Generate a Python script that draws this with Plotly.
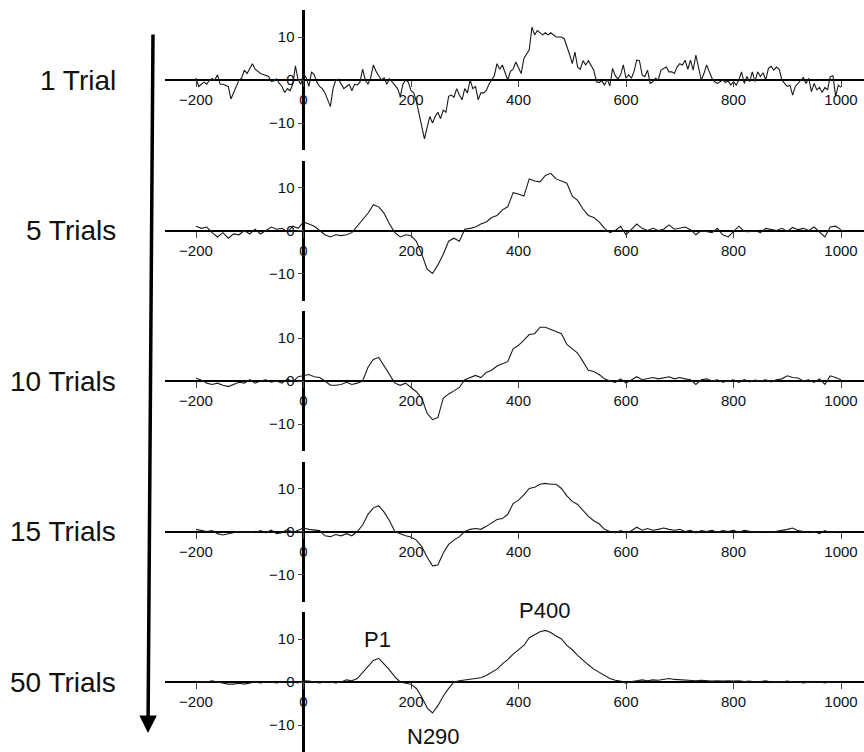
import plotly.graph_objects as go

# ---------------- data ----------------
panel_labels = ["1 Trial", "5 Trials", "10 Trials", "15 Trials", "50 Trials"]

# 1 trial: sampled every 5 ms from -200 to 1000
t_5ms = list(range(-200, 1001, 5))
trial_1 = [
    0.5, -1.5, -1, -0.5, -1, 0, 0.3, 0, 1.2, -1, -1, -1.2, -1.5, -4.4, -3, -1.5, 0, 0.5, 2.3, 1.5,
    2.8, 3.8, 2.5, 2, 1.5, 1.3, 1, 0.8, -0.3, -0.2, 0.3, -0.8, -1.5, -2.9, -2, -2.5, -1, 3.3, 0, -1,
    1.5, 0.5, -1.5, 1.9, 1.2, -0.5, -1.5, -2, -3, -4.5, -6.2, -2, 0, 0.2, -1, -2, -1.5, -1, -2.5, -1,
    -1.2, -0.5, 2.5, 0, -1, 0.5, 3.5, 2, 1, 0, 0.5, -1, 0.3, -0.5, -1.2, -2, -3.8, -1, 0, -0.5,
    -2.5, -3, -5, -8, -11, -13.7, -11, -8.5, -10, -8.5, -7.5, -9, -7, -7.5, -3.8, -3.5, -4, -2, -3.5, -4.6,
    -2, -3, 0, -2, -1.5, -4.6, -3, -3, -2.5, -1, 0, 1, 3.8, 2.5, 3.5, 1.5, 0, 2, 2.5, 4.2,
    3, 1.5, 5, 6, 7, 12.3, 10.5, 11.5, 11, 10.5, 11, 10.5, 11, 10.5, 10, 10, 10, 9.6, 8, 6,
    3.8, 6.5, 3, 2.5, 4.5, 3.5, 4.5, 3.5, 2.3, -0.4, -0.6, -0.2, -1.2, 0.2, -1.4, 2.7, 1, 0.2, 1.2, 3.5,
    0.4, 1.2, 0.4, 2, 4.6, 4.5, 1.2, 0.8, 2.3, -0.8, -0.4, 0.4, 0, 2.3, 2.7, 3, 1.9, 1.9, 1.5, 3,
    3.8, 3.5, 4.6, 2.5, 4.6, 2.3, 5.8, 3, 0, 1.5, 3.5, 1.9, 0.4, -0.4, -0.8, -0.4, 0, -0.6, -0.2, -1.2,
    -0.4, -1.2, 0, 1.9, -0.8, 0.8, -0.4, 1.9, -0.4, 1.9, 0.8, 1.7, 0, 2.7, 3.2, 2.3, 3, 2.5, 0, -0.8,
    -1.5, -1.2, -3.5, -1.5, -0.8, 0, 0.6, -0.8, 0.4, -2.7, -0.8, -2.3, -1.7, -2.9, -1.7, -2.3, 0.8, 1, -3.8, -1.2,
    -1.7,
]

# averaged waveforms: sampled every 10 ms from -200 to 1000
t_10ms = list(range(-200, 1001, 10))
trials_5 = [
    1, 0.5, 0.8, -0.5, -1.5, -0.5, -1.8, -0.8, -1, 0,
    -0.8, 0.3, -0.8, 0, 0.8, 0.3, 0.5, -0.3, 1, 0.5,
    2, 1.5, 1, 0, -1, -1.5, -1, -1.2, -1, -0.5,
    1, 2.5, 4, 6, 5.5, 4, 1.5, -0.5, -1.5, -1,
    -1.2, -2.5, -5.5, -9, -10, -8, -5.5, -2.5, -1.8, -2.5,
    0.3, 0.5, 0.8, 1.5, 2, 3, 3.5, 4.8, 5.5, 8.8,
    8.5, 8, 12, 11.5, 11.3, 12.8, 13.3, 12, 11.5, 11,
    8, 7, 5, 3.5, 3, 2, 0.5, -0.5, 0, 1,
    -1, 0.2, 1.5, 0.5, 0, 0.5, 0, 0.3, 1.3, 0.3,
    0.5, 0.8, 0.2, -1, 0, -0.3, -0.5, 0.5, -1, -1.5,
    -0.3, 1, -0.2, -0.3, 0, -0.5, 0.5, 0.3, 0, 0.5,
    -0.2, 0.7, 0.2, 0.5, 0, 0.8, -0.3, -1.5, 0.8, 1,
    0.2,
]
trials_10 = [
    0.7, 0.2, -0.5, -0.8, -0.5, -1, -1.3, -0.8, -0.3, -0.5,
    0.3, -0.5, 0, 0.3, -0.3, 0, -0.5, 0.5, -0.2, 1,
    1.2, 1.5, 1, 0.8, 0, -1, -1, -0.8, -0.3, -0.8,
    -0.5, 0, 3.2, 5, 5.5, 3.5, 1.5, -0.5, -1, -0.5,
    -1.5, -2.5, -4, -7.5, -9, -8.5, -4, -3, -2.3, -1.5,
    0.3, 0.8, 1.3, 0.8, 2, 2.5, 3.5, 4, 4.5, 7.5,
    8.3, 9.5, 10.8, 11, 12.5, 12.5, 12, 11.5, 11, 8.5,
    7.5, 6.5, 4.5, 2.5, 2.2, 1.5, 0.5, 0, -0.3, 0.5,
    -0.5, 0.3, 1, 0.3, 0.5, 0.8, 0.5, 0.7, 1, 0.5,
    0.8, 0.5, 0.3, -0.8, 0.3, 0.5, 0, 0.3, -0.3, 0,
    0.3, -0.3, 0.3, -0.2, 0.2, 0, 0.3, -0.2, 0.3, 0.5,
    1.2, 0.8, 0.7, 0, 0.3, -0.3, 0.5, -0.8, 1.2, 0.8,
    0.3,
]
trials_15 = [
    0.5, 0.3, 0, 0.2, -0.5, -0.8, -0.5, -0.3, 0, -0.2,
    0, -0.3, 0.2, -0.3, 0.3, -0.5, -0.3, 0.5, -0.3, 0.3,
    0.8, 0.5, 0.3, 0.2, -1, -1.2, -0.7, -1, -0.5, -1,
    0, 1.5, 4, 5.5, 6, 4.5, 2.5, 0, -0.5, -1,
    -1.3, -2, -3.5, -6, -8, -7.8, -5, -3, -2, -1.2,
    0, 0.5, 0.7, 0.5, 1.2, 2, 2.8, 3, 4, 6.5,
    7.3, 8.5, 10, 10.3, 11, 11.2, 11, 11, 10, 8.3,
    7, 6.3, 5, 3.5, 2.5, 1.8, 0.5, 0, -0.3, 0.2,
    -0.3, 0.2, 1, 0.3, 0.7, 0.3, 0.5, 0.8, 0.5, 0.3,
    0.5, 0, 0.3, -0.3, 0.2, 0, 0.3, -0.2, 0.2, 0,
    0.3, -0.2, 0.3, 0, -0.2, 0, 0, -0.2, 0, 0.2,
    0.5, 0.8, 0.2, 0, -0.3, 0, -0.5, 0.2, -0.3, 0,
    0,
]
trials_50 = [
    0, 0.1, 0, 0.3, 0, -0.3, -0.5, -0.5, -0.3, -0.5,
    -0.2, 0, -0.2, 0, 0, -0.2, 0, 0, 0, -0.2,
    0.3, 0.2, 0, -0.2, 0, 0, -0.2, 0, 0.5, 0.3,
    0.8, 2.2, 3.5, 5, 5.5, 4.2, 2.8, 1.2, 0, -0.3,
    -0.5, -1.5, -3.5, -6, -7.2, -5.5, -3.3, -1.5, 0, 0.3,
    0.5, 0.7, 0.8, 1, 1.5, 2.3, 3, 4.2, 5.2, 6.5,
    7.5, 8.5, 10.3, 11, 11.7, 12, 11.5, 10.7, 10, 8.5,
    7.5, 6.2, 5, 4, 3, 2.2, 1.4, 0.8, 0.4, 0.2,
    -0.3, 0.1, 0.3, 0.5, 0.3, 0.5, 0.4, 0.6, 0.8, 0.6,
    0.5, 0.4, 0.4, 0.3, 0.4, 0.3, 0.2, 0.3, 0.2, 0.3,
    0.2, 0.3, 0.1, 0.2, 0, 0.1, 0.3, 0, 0.1, 0,
    0.2, 0, 0, -0.2, 0, -0.1, 0, -0.2, 0, 0,
    -0.1,
]

x_ticks = [-200, 0, 200, 400, 600, 800, 1000]
y_ticks = [-10, 0, 10]
components = [("P1", 137), ("N290", 241), ("P400", 449)]

series = [(t_5ms, trial_1), (t_10ms, trials_5), (t_10ms, trials_10),
          (t_10ms, trials_15), (t_10ms, trials_50)]

# ---------------- layout geometry ----------------
W, H = 864, 752
X_LEFT_PX, X_ZERO_PX, PX_PER_MS = 165, 303.5, 0.5375
X_RANGE = [(X_LEFT_PX - X_ZERO_PX) / PX_PER_MS, (W - X_ZERO_PX) / PX_PER_MS]
ZERO_Y_PX = [80, 230.5, 381, 531.5, 682]
HALF_PX = 70
PX_PER_UV = 4.3
Y_RANGE = [-HALF_PX / PX_PER_UV, HALF_PX / PX_PER_UV]
FONT = "Liberation Sans, Arial, Helvetica, sans-serif"

fig = go.Figure()
layout = dict(
    width=W, height=H, autosize=False,
    margin=dict(l=0, r=0, t=0, b=0),
    paper_bgcolor="white", plot_bgcolor="white",
    showlegend=False,
    font=dict(family=FONT, color="#111"),
)
annotations = []

for i, ((tx, vals), zy) in enumerate(zip(series, ZERO_Y_PX)):
    k = i + 1
    xn, yn = f"x{k}", f"y{k}"
    fig.add_trace(go.Scatter(x=tx, y=vals, mode="lines", xaxis=xn, yaxis=yn,
                             line=dict(color="#1a1a1a", width=1.1),
                             hoverinfo="skip"))
    dom = [1 - (zy + HALF_PX) / H, 1 - (zy - HALF_PX) / H]
    zero_paper = 1 - zy / H
    layout[f"xaxis{k}"] = dict(
        domain=[X_LEFT_PX / W, 1.0], range=X_RANGE, anchor="free",
        position=zero_paper, showgrid=False, showline=False,
        zeroline=True, zerolinecolor="black", zerolinewidth=2.2,
        tickvals=x_ticks, ticks="outside", ticklen=6, tickwidth=1,
        tickcolor="#444", tickfont=dict(size=15, family=FONT, color="#111"),
        fixedrange=True,
    )
    layout[f"yaxis{k}"] = dict(
        domain=dom, range=Y_RANGE, anchor="free",
        position=X_ZERO_PX / W, showgrid=False, showline=False,
        zeroline=True, zerolinecolor="black", zerolinewidth=2,
        tickvals=y_ticks, ticks="outside", ticklen=6, tickwidth=1,
        tickcolor="#444", tickfont=dict(size=15, family=FONT, color="#111"),
        fixedrange=True,
    )
    annotations.append(dict(
        text=panel_labels[i], xref="paper", yref="paper",
        x=118 / W, y=zero_paper, xanchor="right", yanchor="middle",
        showarrow=False, font=dict(size=28, family=FONT, color="#111"),
    ))

# component labels on the 50-trial panel
comp_y_px = {"P1": 639, "N290": 736, "P400": 610}
for name, t in components:
    annotations.append(dict(
        text=name, xref="x5", yref="paper", x=t, y=1 - comp_y_px[name] / H,
        xanchor="center", yanchor="middle", showarrow=False,
        font=dict(size=22, family=FONT, color="#111"),
    ))

# long downward arrow
annotations.append(dict(
    text="", xref="paper", yref="paper", x=148 / W, y=1 - 733 / H,
    ax=5, ay=-700, axref="pixel", ayref="pixel",
    showarrow=True, arrowhead=2, arrowsize=1.0, arrowwidth=3.5,
    arrowcolor="black",
))

layout["annotations"] = annotations
fig.update_layout(**layout)
fig.write_html(
    "out.html",
    config={"displayModeBar": False, "staticPlot": True},
    post_script=(
        "document.body.style.margin='0';"
        "document.body.style.padding='0';"
        "document.body.style.overflow='hidden';"
    ),
)
